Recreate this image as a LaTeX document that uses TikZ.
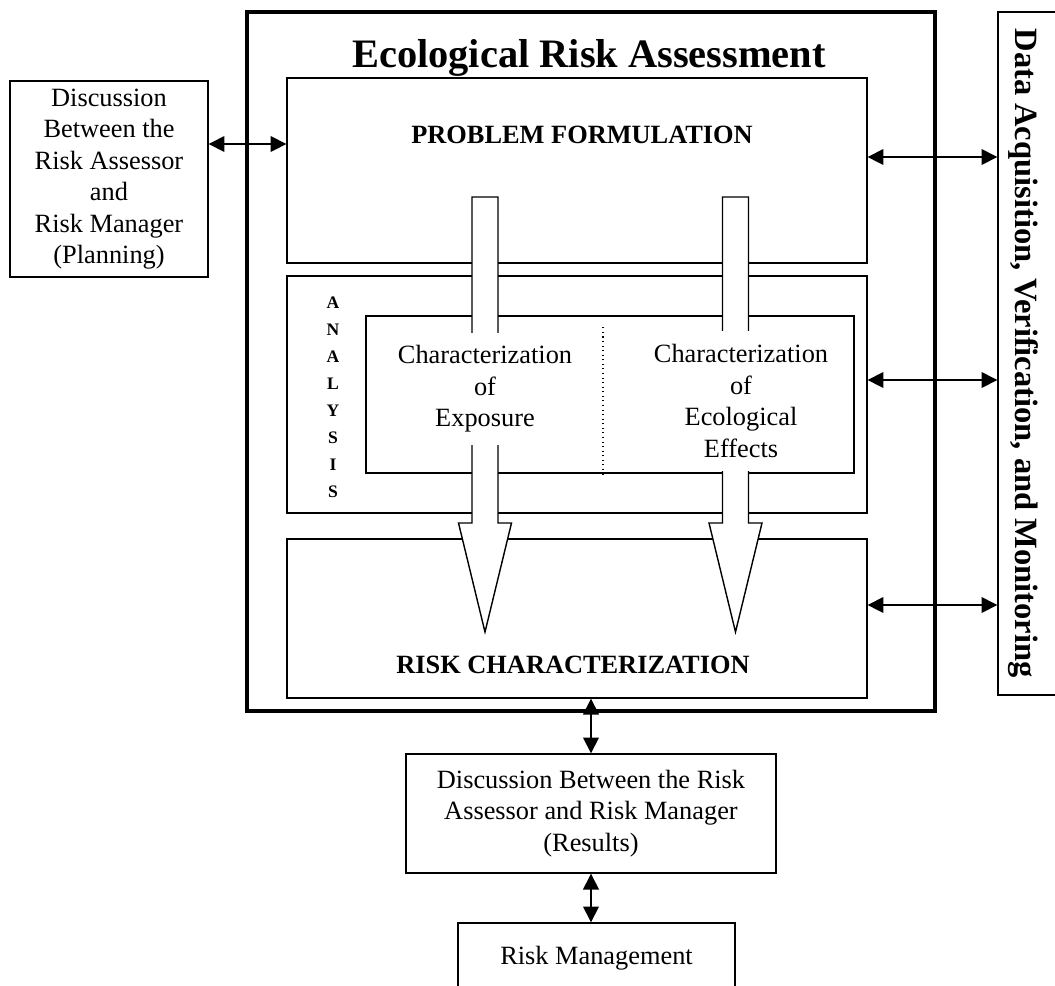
\documentclass[tikz,border=0pt]{standalone}
\usepackage{fontspec}
\setmainfont{Liberation Serif}
\usepackage{tikz}
\usetikzlibrary{
    arrows.meta,
    positioning
}

\begin{document}
\begin{tikzpicture}[x=0.02cm, y=-0.02cm,
        box/.style={draw, line width=0.8pt, rectangle, inner sep=0pt},
        txt/.style={align=center, font=\fontsize{15}{17.9}\selectfont},
        hdr/.style={font=\bfseries\fontsize{15}{18}\selectfont},
        dbl/.style={{Triangle[length=9pt,width=9pt]}-{Triangle[length=9pt,width=9pt]}, line width=0.8pt},
        fatarrow/.style={draw, fill=white, line width=0.8pt, line join=miter}]
            \useasboundingbox (0,0) rectangle (1055,985);

            \node[draw, line width=1.8pt, minimum width=13.76cm, minimum height=13.98cm] (era) at (591,361.5) {};
            \node[font=\bfseries\fontsize{23}{27}\selectfont, anchor=base] (title) at (589,67) {Ecological Risk Assessment};

            \node[box, minimum width=11.6cm, minimum height=3.7cm]  (problem)  at (577,170.5) {};
            \node[box, minimum width=11.6cm, minimum height=4.74cm] (analysis) at (577,394.5) {};
            \node[box, minimum width=9.76cm, minimum height=3.14cm] (inner)    at (610,394.5) {};
            \node[box, minimum width=11.6cm, minimum height=3.18cm] (riskchar) at (577,618.5) {};

            \foreach \ax in {485,735.5}
                \draw[fatarrow] (\ax-13,197) -- (\ax+13,197) -- (\ax+13,523) -- (\ax+26.5,523)
                    -- (\ax,632) -- (\ax-26.5,523) -- (\ax-13,523) -- cycle;

            \node[txt, fill=white, minimum width=4.6cm, minimum height=2.24cm] (expo)    at (485,389) {Characterization\\of\\Exposure};
            \node[txt, fill=white, minimum width=4.4cm, minimum height=2.8cm]  (effects) at (741,401) {Characterization\\of\\Ecological\\Effects};
            \coordinate (split) at (603,0);
            \draw[dotted, line width=0.6pt] ([yshift=-0.24cm]inner.north -| split) -- (inner.south -| split);

            \node[hdr] (pflbl) at (582,135) {PROBLEM FORMULATION};
            \node[hdr] (rclbl) at (573,665) {RISK CHARACTERIZATION};
            \node[font=\bfseries\fontsize{10}{15.4}\selectfont, align=center] (anlbl) at (333,397) {A\\N\\A\\L\\Y\\S\\I\\S};

            \node[box, txt, minimum width=3.96cm, minimum height=3.92cm] (planning) at (109,179)
                {Discussion\\Between the\\Risk Assessor\\and\\Risk Manager\\(Planning)};

            \node[box, minimum width=1.44cm, minimum height=13.66cm] (dvm) at (1034,353.5) {};
            \node[rotate=-90, font=\bfseries\fontsize{18.5}{22}\selectfont] (dvmlbl) at (1023,353)
                {Data Acquisition, Verification, and Monitoring};

            \node[box, txt, minimum width=7.4cm, minimum height=2.38cm] (results) at (591,813.5)
                {Discussion Between the Risk\\Assessor and Risk Manager\\(Results)};
            \node[box, txt, minimum width=5.54cm, minimum height=1.4cm] (mgmt) at (596.5,958) {Risk Management};

            \coordinate (r0) at (0,144);
            \coordinate (r1) at (0,157);
            \coordinate (r2) at (0,380);
            \coordinate (r3) at (0,605);

            \draw[dbl] (planning.east |- r0) -- (problem.west |- r0);
            \draw[dbl] (problem.east |- r1)  -- (dvm.west |- r1);
            \draw[dbl] (analysis.east |- r2) -- (dvm.west |- r2);
            \draw[dbl] (riskchar.east |- r3) -- (dvm.west |- r3);

            \draw[dbl] (results.north |- riskchar.south) -- (results.north);
            \draw[dbl] (results.south) -- (results.south |- mgmt.north);
\end{tikzpicture}
\end{document}
